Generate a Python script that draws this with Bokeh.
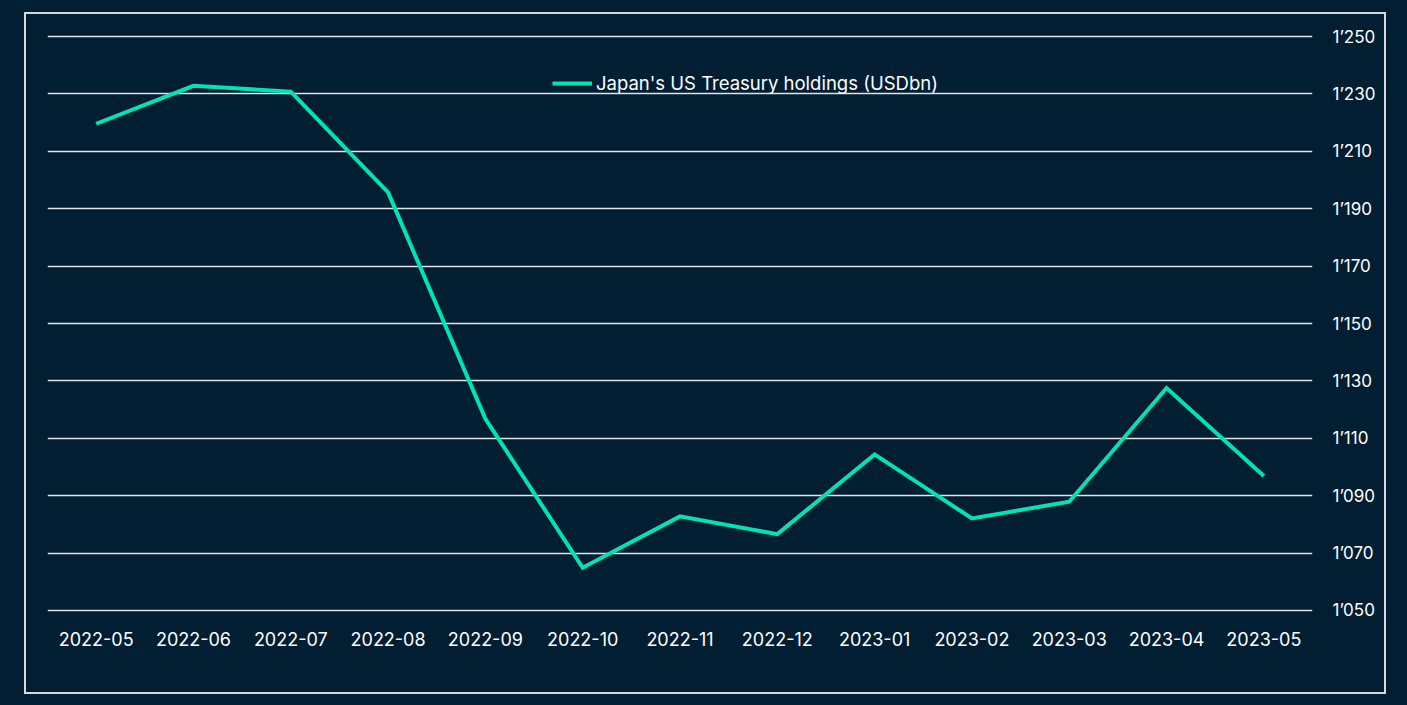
from bokeh.plotting import figure
from bokeh.models import (ColumnDataSource, FactorRange, Range1d, LinearAxis,
                          CustomJSTickFormatter, FixedTicker, Legend, LegendItem)
from bokeh.embed import file_html
from bokeh.resources import INLINE

# ---- data ----
months = ["2022-05", "2022-06", "2022-07", "2022-08", "2022-09", "2022-10", "2022-11",
          "2022-12", "2023-01", "2023-02", "2023-03", "2023-04", "2023-05"]
holdings = [1219.6, 1232.8, 1230.8, 1195.7, 1116.8, 1064.9, 1082.8,
            1076.6, 1104.4, 1082.1, 1087.9, 1127.5, 1096.9]
series_name = "Japan's US Treasury holdings (USDbn)"
y_ticks = [1050, 1070, 1090, 1110, 1130, 1150, 1170, 1190, 1210, 1230, 1250]

BG = "#011e33"
LINE = "#00e3b5"
GRID = "#e4e4e4"
BORDER = "#d9d9d9"
FONT = "Inter"
TXT = "#ffffff"

src = ColumnDataSource(dict(m=months, v=holdings))

p = figure(width=1362, height=682, x_range=FactorRange(*months),
           y_range=Range1d(y_ticks[0] - 0.7, y_ticks[-1] + 0.7),
           output_backend="svg", toolbar_location=None, y_axis_location=None,
           min_border_left=21, min_border_right=76, min_border_top=20, min_border_bottom=84)
p.background_fill_color = BG
p.border_fill_color = BG
p.outline_line_color = None
p.styles = {"border": "2px solid " + BORDER}

r = p.line("m", "v", source=src, line_color=LINE, line_width=4, line_join="miter")

# right axis
yax = LinearAxis(ticker=FixedTicker(ticks=y_ticks),
                 formatter=CustomJSTickFormatter(code="""
                     const s = Math.round(tick).toString();
                     return s.length > 3 ? s.slice(0, -3) + "\u2019" + s.slice(-3) : s;
                 """))
yax.axis_line_color = None
yax.major_tick_line_color = None
yax.minor_tick_line_color = None
yax.major_label_standoff = 14
yax.major_label_text_font = FONT
yax.major_label_text_font_size = "17px"
yax.major_label_text_color = TXT
p.add_layout(yax, "right")

xax = p.xaxis[0]
xax.axis_line_color = None
xax.major_tick_line_color = None
xax.minor_tick_line_color = None
xax.major_label_standoff = 13
xax.major_label_text_font = FONT
xax.major_label_text_font_size = "18px"
xax.major_label_text_color = TXT

p.xgrid.grid_line_color = None
p.ygrid.grid_line_color = GRID
p.ygrid.grid_line_width = 1.6
p.ygrid.ticker = FixedTicker(ticks=y_ticks)

legend = Legend(items=[LegendItem(label=series_name, renderers=[r])],
                location=(505, 518), orientation="horizontal",
                background_fill_alpha=0, border_line_color=None,
                padding=0, margin=0, glyph_width=40, glyph_height=20,
                label_height=20, label_standoff=4,
                label_text_font=FONT, label_text_font_size="18.5px",
                label_text_color=TXT)
p.add_layout(legend)

html = file_html(p, INLINE)
html = html.replace(
    "</head>",
    "<style>html,body{background:%s !important;margin:0 !important;}"
    "body{padding:12px 0 0 24px !important;}</style></head>" % BG,
    1)
open("out.html", "w").write(html)
